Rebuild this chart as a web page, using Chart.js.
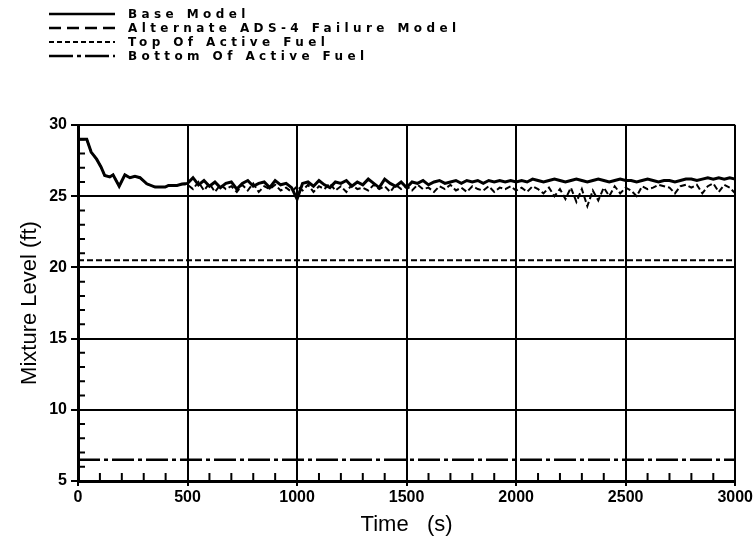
<!DOCTYPE html>
<html>
<head>
<meta charset="utf-8">
<script src="https://cdn.jsdelivr.net/npm/chart.js@4.4.0/dist/chart.umd.min.js"></script>
<style>
  body { margin: 0; background: #fff; }
  #wrap { position: relative; width: 755px; height: 541px; }
  #myChart { position: absolute; left: 0; top: 0; }
  #legend { position: absolute; left: 49px; top: 7px; font-family: "DejaVu Sans", sans-serif; font-weight: bold; font-size: 12px; letter-spacing: 4.4px; color: #000; }
  .row { height: 14px; display: flex; align-items: center; }
  .row svg { width: 66px; height: 6px; margin-right: 13px; }
</style>
</head>
<body>
<div id="wrap">
  <canvas id="myChart" width="755" height="541"></canvas>
  <div id="legend">
    <div class="row"><svg><line x1="0" y1="3" x2="66" y2="3" stroke="#000" stroke-width="2.5"/></svg>Base Model</div>
    <div class="row"><svg><line x1="0" y1="3" x2="66" y2="3" stroke="#000" stroke-width="2.5" stroke-dasharray="12 6"/></svg>Alternate ADS-4 Failure Model</div>
    <div class="row"><svg><line x1="0" y1="3" x2="66" y2="3" stroke="#000" stroke-width="2" stroke-dasharray="5 3"/></svg>Top Of Active Fuel</div>
    <div class="row"><svg><line x1="0" y1="3" x2="66" y2="3" stroke="#000" stroke-width="2.5" stroke-dasharray="24 4 4 4"/></svg>Bottom Of Active Fuel</div>
  </div>
</div>
<script>
// early transient, same for both models
const startTime = [0, 40, 60, 85, 105, 122, 145, 160, 188, 214, 237, 260, 283, 314, 352, 398, 413, 452, 475];
const startLevel = [29.0, 29.0, 28.1, 27.6, 27.05, 26.45, 26.35, 26.5, 25.7, 26.5, 26.3, 26.4, 26.3, 25.87, 25.64, 25.64, 25.76, 25.76, 25.85];

// after 500 s
const laterTime = [500, 525, 550, 575, 600, 625, 650, 675, 700, 725, 750, 775, 800, 825, 850, 875, 900, 925, 950, 975,
  1000, 1025, 1050, 1075, 1100, 1125, 1150, 1175, 1200, 1225, 1250, 1275, 1300, 1325, 1350, 1375, 1400, 1425, 1450, 1475,
  1500, 1525, 1550, 1575, 1600, 1625, 1650, 1675, 1700, 1725, 1750, 1775, 1800, 1825, 1850, 1875, 1900, 1925, 1950, 1975,
  2000, 2025, 2050, 2075, 2100, 2125, 2150, 2175, 2200, 2225, 2250, 2275, 2300, 2325, 2350, 2375, 2400, 2425, 2450, 2475,
  2500, 2525, 2550, 2575, 2600, 2625, 2650, 2675, 2700, 2725, 2750, 2775, 2800, 2825, 2850, 2875, 2900, 2925, 2950, 2975, 3000];

const baseLevel = [25.9, 26.3, 25.8, 26.1, 25.7, 26.0, 25.6, 25.9, 26.0, 25.5, 25.9, 26.1, 25.7, 25.9, 26.0, 25.6, 26.1, 25.8, 25.9, 25.6,
  24.8, 25.9, 26.0, 25.7, 26.1, 25.8, 25.6, 26.0, 25.9, 26.1, 25.7, 26.0, 25.8, 26.2, 25.9, 25.6, 26.2, 25.9, 25.7, 26.0,
  25.6, 26.0, 25.9, 26.1, 25.8, 26.0, 26.1, 25.9, 26.0, 26.1, 25.9, 26.1, 26.0, 26.1, 25.9, 26.1, 26.0, 26.1, 26.0, 26.1,
  26.0, 26.1, 26.0, 26.2, 26.1, 26.0, 26.1, 26.2, 26.1, 26.0, 26.1, 26.2, 26.1, 26.0, 26.1, 26.2, 26.1, 26.0, 26.1, 26.2,
  26.1, 26.1, 26.0, 26.1, 26.2, 26.1, 26.0, 26.1, 26.1, 26.0, 26.1, 26.2, 26.2, 26.1, 26.2, 26.3, 26.2, 26.3, 26.2, 26.3, 26.2];

const altLevel = [25.8, 25.5, 26.0, 25.4, 25.9, 25.3, 25.8, 25.5, 25.7, 25.3, 25.8, 25.4, 25.9, 25.3, 25.7, 25.5, 25.8, 25.4, 25.6, 25.3,
  25.7, 25.4, 25.8, 25.3, 25.7, 25.5, 25.9, 25.4, 25.7, 25.3, 25.8, 25.5, 25.6, 25.4, 25.8, 25.5, 25.7, 25.3, 25.8, 25.5,
  25.7, 25.4, 25.8, 25.5, 25.6, 25.3, 25.7, 25.5, 25.8, 25.4, 25.6, 25.3, 25.7, 25.5, 25.4, 25.7, 25.3, 25.6, 25.5, 25.7,
  25.4, 25.6, 25.3, 25.7, 25.5, 25.2, 25.6, 25.0, 25.5, 24.8, 25.6, 24.6, 25.5, 24.3, 25.4, 24.7, 25.6, 25.0, 25.7, 25.2,
  25.6, 25.4, 25.0, 25.7, 25.5, 25.6, 25.8, 25.7, 25.6, 25.2, 25.7, 25.8, 25.6, 25.8, 25.2, 25.7, 25.9, 25.3, 25.8, 25.6, 25.2];

const fuelTime = [0, 3000];
const topFuel = [20.5, 20.5];
const bottomFuel = [6.5, 6.5];

function toPoints(xs, ys) {
  return xs.map((x, i) => ({ x: x, y: ys[i] }));
}

const basePts = toPoints(startTime, startLevel).concat(toPoints(laterTime, baseLevel));
const altPts = toPoints(startTime, startLevel).concat(toPoints(laterTime, altLevel));

const axisFont = { family: "'Liberation Sans', Arial, sans-serif", size: 16, weight: 'bold' };
const titleFont = { family: "'Liberation Sans', Arial, sans-serif", size: 22 };

// short inside ticks between the labelled ones
const minorTicks = {
  id: 'minorTicks',
  afterDraw(chart) {
    const ctx = chart.ctx;
    const area = chart.chartArea;
    const xs = chart.scales.x, ys = chart.scales.y;
    ctx.save();
    ctx.strokeStyle = '#000';
    ctx.lineWidth = 2;
    ctx.beginPath();
    ys.ticks.forEach(t => {
      if (t.value % 5 !== 0) {
        const py = ys.getPixelForValue(t.value);
        ctx.moveTo(area.left, py);
        ctx.lineTo(area.left + 7, py);
      }
    });
    xs.ticks.forEach(t => {
      if (t.value % 500 !== 0) {
        const px = xs.getPixelForValue(t.value);
        ctx.moveTo(px, area.bottom);
        ctx.lineTo(px, area.bottom - 8);
      }
    });
    ctx.stroke();
    ctx.restore();
  }
};

new Chart("myChart", {
  type: 'line',
  data: {
    datasets: [
      { label: 'Base Model', data: basePts, borderColor: '#000', borderWidth: 3, pointRadius: 0, tension: 0 },
      { label: 'Alternate ADS-4 Failure Model', data: altPts, borderColor: '#000', borderWidth: 2, borderDash: [6, 3], pointRadius: 0, tension: 0 },
      { label: 'Top Of Active Fuel', data: toPoints(fuelTime, topFuel), borderColor: '#000', borderWidth: 2, borderDash: [6, 3], pointRadius: 0 },
      { label: 'Bottom Of Active Fuel', data: toPoints(fuelTime, bottomFuel), borderColor: '#000', borderWidth: 2.5, borderDash: [22, 4, 4, 4], pointRadius: 0 }
    ]
  },
  options: {
    responsive: false,
    animation: false,
    layout: { padding: { top: 125, right: 19, left: 0, bottom: 0 } },
    plugins: { legend: { display: false }, tooltip: { enabled: false } },
    scales: {
      x: {
        type: 'linear', min: 0, max: 3000,
        afterFit: s => { s.height = 60; },
        ticks: { stepSize: 100, autoSkip: false, maxRotation: 0, color: '#000', font: axisFont, padding: 2,
          callback: v => v % 500 === 0 ? String(v) : '' },
        grid: { lineWidth: 2, tickLength: 5,
          color: c => (c.tick && c.tick.value % 500 === 0) ? '#000' : 'rgba(0,0,0,0)',
          tickColor: c => (c.tick && c.tick.value % 500 === 0) ? '#000' : 'rgba(0,0,0,0)' },
        border: { color: '#000', width: 3 },
        title: { display: true, text: 'Time   (s)', color: '#000', font: titleFont, padding: { top: 0, bottom: 3 } }
      },
      y: {
        min: 5, max: 30,
        afterFit: s => { s.width = 78; },
        ticks: { stepSize: 1, autoSkip: false, color: '#000', font: axisFont, padding: 4,
          callback: v => v % 5 === 0 ? String(v) : '' },
        grid: { lineWidth: 2, tickLength: 7,
          color: c => (c.tick && c.tick.value % 5 === 0) ? '#000' : 'rgba(0,0,0,0)',
          tickColor: c => (c.tick && c.tick.value % 5 === 0) ? '#000' : 'rgba(0,0,0,0)' },
        border: { color: '#000', width: 3 },
        title: { display: true, text: 'Mixture Level (ft)', color: '#000', font: titleFont, padding: { top: 17, bottom: 0 } }
      }
    }
  },
  plugins: [minorTicks]
});
</script>
</body>
</html>
